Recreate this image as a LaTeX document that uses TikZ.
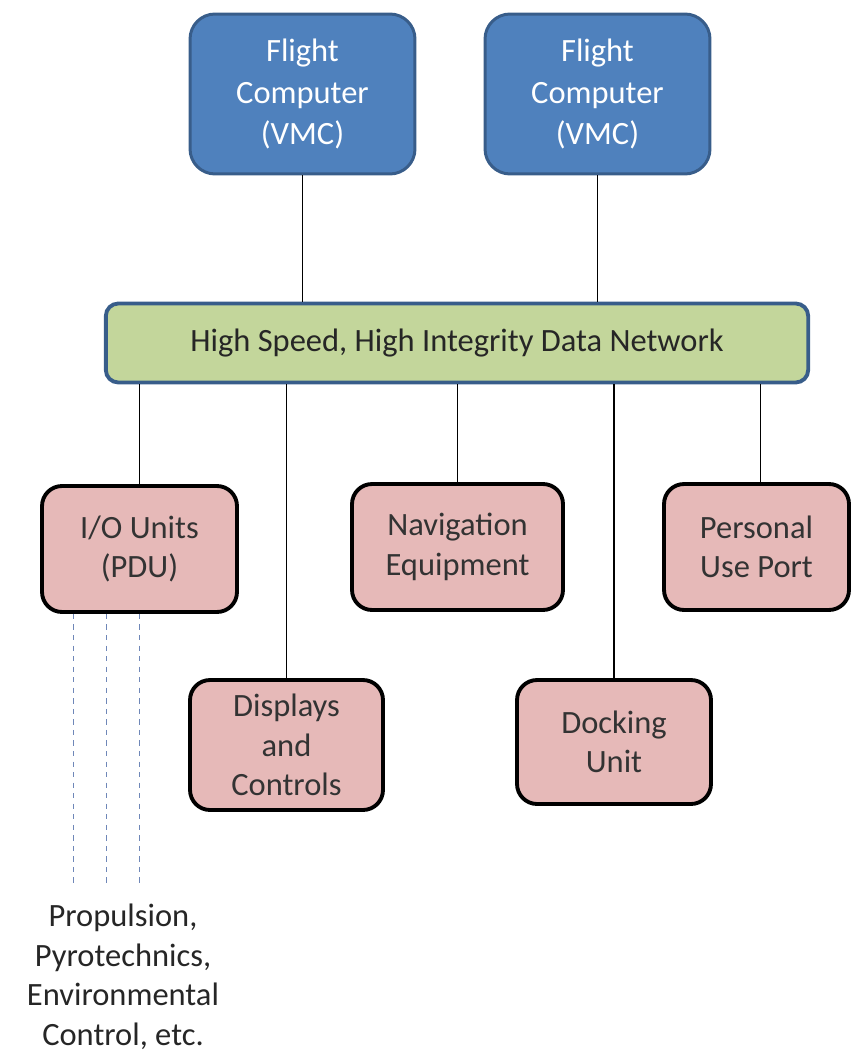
\documentclass[tikz,border=0pt]{standalone}
\usepackage{fontspec}
\setmainfont{Carlito}
\usepackage{tikz}
\usetikzlibrary{positioning, calc}

\definecolor{vmcfill}{HTML}{4F81BD}
\definecolor{vmcline}{HTML}{385D8A}
\definecolor{netfill}{HTML}{C3D69B}
\definecolor{unitfill}{HTML}{E6B9B8}
\definecolor{busline}{HTML}{6F87B8}

\begin{document}
\begin{tikzpicture}[
			x=0.02cm, y=-0.02cm,
			vmc/.style={rectangle, rounded corners=0.5cm, draw=vmcline, line width=1.7pt, fill=vmcfill, text=white, minimum width=4.5cm, minimum height=3.2cm, align=center, font=\fontsize{18.5}{23.5}\selectfont},
			net/.style={rectangle, rounded corners=0.25cm, draw=vmcline, line width=2.2pt, fill=netfill, text=black!85, minimum width=14.05cm, minimum height=1.58cm, align=center, font=\fontsize{18.5}{23.5}\selectfont},
			unit/.style={rectangle, rounded corners=0.4cm, draw=black, line width=2.2pt, fill=unitfill, text=black!80, minimum height=2.52cm, align=center, font=\fontsize{18.5}{22.5}\selectfont},
			link/.style={line width=0.6pt},
			bus/.style={busline, dashed, line width=0.6pt}
			]
			\useasboundingbox (0,0) rectangle (854,1053);
			% Rechner
			\node[vmc] (fca) at (302.5,94) {Flight\\Computer\\(VMC)};
			\node[vmc] (fcb) at (597.5,94) {Flight\\Computer\\(VMC)};
			% Netzwerk
			\node[net] (net) at (457,343) {High Speed, High Integrity Data Network};
			% Teilnehmer
			\node[unit, minimum width=3.9cm] (io) at (139.5,549) {I/O Units\\(PDU)};
			\node[unit, minimum width=4.22cm] (nav) at (457.5,547) {Navigation\\Equipment};
			\node[unit, minimum width=3.7cm] (port) at (756.5,547) {Personal\\Use Port};
			\node[unit, minimum width=3.86cm, minimum height=2.6cm] (disp) at (286.5,745) {Displays\\and\\Controls};
			\node[unit, minimum width=3.88cm, minimum height=2.48cm] (dock) at (614,742) {Docking\\Unit};
			% Subsysteme
			\node[text=black!85, align=center, font=\fontsize{18.5}{22.5}\selectfont] (subsys) at (123,977) {Propulsion,\\Pyrotechnics,\\Environmental\\Control, etc.};
			\coordinate (busend) at (139.5,888);

			% Rechner -> Netzwerk
			\draw[link] (fca.south) -- (fca.south |- net.north);
			\draw[link] (fcb.south) -- (fcb.south |- net.north);
			% Netzwerk -> Teilnehmer
			\draw[link] (io.north |- net.south) -- (io.north);
			\draw[link] (disp.north |- net.south) -- (disp.north);
			\draw[link] (nav.north |- net.south) -- (nav.north);
			\draw[link] (dock.north |- net.south) -- (dock.north);
			\draw[link] ($(port.north |- net.south)+(4,0)$) -- ($(port.north)+(4,0)$);
			% I/O -> Subsysteme (gestrichelt)
			\foreach \dx in {-66,-33,0}
				\draw[bus] ($(io.south)+(\dx,0)$) -- ($(busend)+(\dx,0)$);
		\end{tikzpicture}
\end{document}
